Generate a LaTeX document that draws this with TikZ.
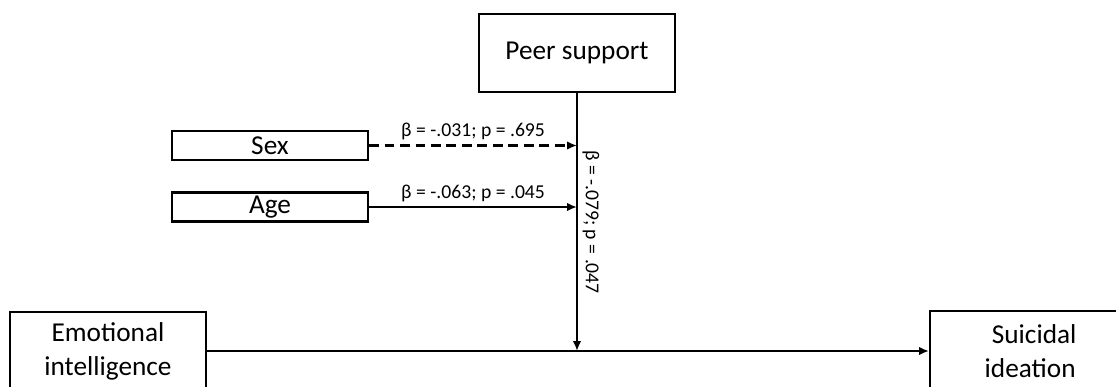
\documentclass[tikz,border=0pt]{standalone}
\usepackage{fontspec}
\setmainfont{Carlito}
\usetikzlibrary{arrows.meta,positioning}
\begin{document}
\begin{tikzpicture}[x=0.025cm,y=-0.025cm,box/.style={draw,line width=1.6pt,align=center,minimum width=4.9cm,inner sep=0pt,font=\fontsize{19.4}{24}\selectfont},arr/.style={-{Latex[length=7pt,width=6pt]},line width=1.9pt},lbl/.style={font=\fontsize{14}{17}\selectfont,inner sep=3pt}]
\useasboundingbox (0,0) rectangle (1116,387);
\node[box,minimum height=1.95cm] (peer) at (577,53) {Peer support};
\node[box,minimum height=0.73cm] (sex) at (270,145.5) {Sex};
\node[box,minimum height=0.73cm] (age) at (270,207) {Age};
\node[box,minimum height=1.95cm] (emo) at (108,351) {Emotional\\intelligence};
\node[box,minimum height=2cm,minimum width=5.2cm,anchor=west] (sui) at (929,351) {Suicidal\\ideation\hspace*{0.2cm}};
\coordinate (j) at (peer.south |- emo.east);
\draw[arr] (emo) -- (sui);
\draw[arr] (peer) -- (j) node[lbl,midway,rotate=-90,anchor=south] {β = -.079; p = .047};
\draw[arr,dash pattern=on 7pt off 4pt] (sex) -- (sex -| peer) node[lbl,midway,above] {β = -.031; p = .695};
\draw[arr] (age) -- (age -| peer) node[lbl,midway,above] {β = -.063; p = .045};
\end{tikzpicture}
\end{document}
